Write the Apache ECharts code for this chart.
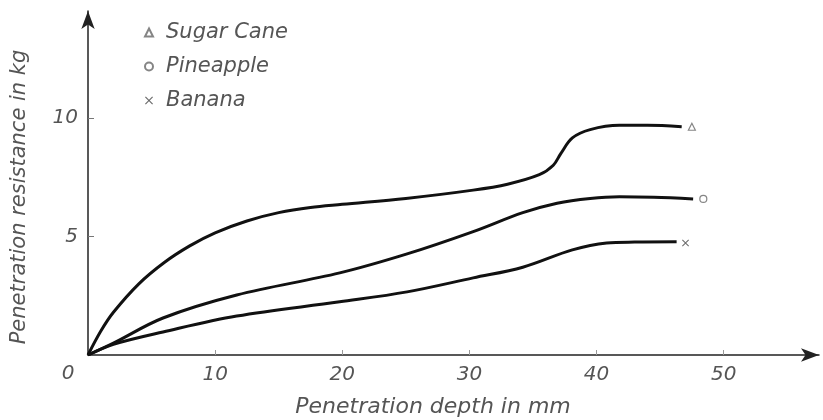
<!DOCTYPE html>
<html><head><meta charset="utf-8">
<script src="https://cdn.jsdelivr.net/npm/echarts@6/dist/echarts.min.js"></script>
<style>html,body{margin:0;padding:0;background:#fff}#c{width:823px;height:420px}</style>
</head><body><div id="c"></div>
<script>
const seriesNames = ['Sugar Cane', 'Pineapple', 'Banana'];
const sugarCane = [[0,0],[1,1.0],[2,1.8],[4,3.0],[6,3.9],[8,4.6],[10,5.15],[12.5,5.65],[15,6.0],[17.5,6.22],[20,6.35],[25,6.6],[30.3,6.95],[33,7.2],[35.5,7.6],[36.6,8.0],[37.2,8.5],[38.1,9.15],[39.5,9.5],[41.8,9.68],[44,9.68],[46.7,9.62]];
const pineapple = [[0,0],[2,0.5],[5.9,1.56],[11.7,2.53],[19.8,3.46],[25.1,4.26],[30.3,5.2],[34.2,6.0],[36.9,6.4],[39.5,6.6],[41.8,6.67],[44.5,6.65],[47.6,6.58]];
const banana = [[0,0],[2,0.45],[5.9,0.97],[11.7,1.64],[19.8,2.24],[25.1,2.66],[30.3,3.25],[34.2,3.7],[38.1,4.43],[40.8,4.72],[43,4.76],[46.3,4.77]];
const endMarkers = [[[47.5,9.62]],[[48.4,6.58]],[[47.0,4.72]]];
const xTicks = [0,10,20,30,40,50];
const yTicks = [0,5,10];
const xTitle = 'Penetration depth in mm';
const yTitle = 'Penetration resistance in kg';

const FONT = "'DejaVu Sans',sans-serif";
const TXT = '#555';
const crossPath = 'path://M0,1L1,0L5,4L9,0L10,1L6,5L10,9L9,10L5,6L1,10L0,9L4,5Z';
const syms = ['triangle', 'circle', crossPath];
const lines = [sugarCane, pineapple, banana];

const chart = echarts.init(document.getElementById('c'));
const series = [];
lines.forEach((d, i) => {
  series.push({
    name: seriesNames[i] + ' curve', type: 'line', data: d, smooth: 0.35,
    symbol: 'none', lineStyle: {color: '#111', width: 3}, z: 3
  });
});
endMarkers.forEach((d, i) => {
  series.push({
    name: seriesNames[i], type: 'scatter', data: d, symbol: syms[i],
    symbolSize: 7,
    itemStyle: i === 2 ? {color: '#444'} : {color: '#fff', borderColor: '#666', borderWidth: 1.2}
  });
});

chart.setOption({
  animation: false,
  backgroundColor: '#fff',
  grid: {left: 88, right: 4, top: 11, bottom: 65},
  legend: {
    data: seriesNames, orient: 'vertical', left: 139, top: 17, itemGap: 13,
    itemWidth: 8, itemHeight: 8,
    textStyle: {fontFamily: FONT, fontStyle: 'italic', fontSize: 21, color: TXT, padding: [0,0,0,8]}
  },
  xAxis: {
    type: 'value', min: 0, max: 57.5, interval: 10,
    axisLine: {lineStyle: {color: '#222', width: 1.5}, symbol: ['none', 'arrow'], symbolSize: [10, 18]},
    axisTick: {inside: true, length: 5, lineStyle: {color: '#999'}},
    splitLine: {show: false},
    axisLabel: {
      showMinLabel: false, showMaxLabel: false, margin: 10,
      fontFamily: FONT, fontStyle: 'italic', fontSize: 20, color: TXT,
      formatter: v => xTicks.indexOf(v) >= 0 ? String(v) : ''
    }
  },
  yAxis: {
    type: 'value', min: 0, max: 14.5, interval: 5,
    axisLine: {show: true, lineStyle: {color: '#222', width: 1.5}, symbol: ['none', 'arrow'], symbolSize: [10, 18]},
    axisTick: {show: true, inside: true, length: 6, lineStyle: {color: '#777'}},
    splitLine: {show: false},
    axisLabel: {
      showMinLabel: false, showMaxLabel: false, margin: 10,
      fontFamily: FONT, fontStyle: 'italic', fontSize: 20, color: TXT,
      formatter: v => yTicks.indexOf(v) >= 0 ? String(v) : ''
    }
  },
  graphic: [
    {type: 'text', x: 68, y: 374, style: {text: String(xTicks[0]), font: "italic 20px 'DejaVu Sans'", fill: TXT, align: 'center', verticalAlign: 'middle'}},
    {type: 'text', x: 433, y: 407, style: {text: xTitle, font: "italic 22px 'DejaVu Sans'", fill: TXT, align: 'center', verticalAlign: 'middle'}},
    {type: 'text', x: 20, y: 197, rotation: Math.PI / 2, style: {text: yTitle, font: "italic 21px 'DejaVu Sans'", fill: TXT, align: 'center', verticalAlign: 'middle'}}
  ],
  series
});
</script></body></html>
